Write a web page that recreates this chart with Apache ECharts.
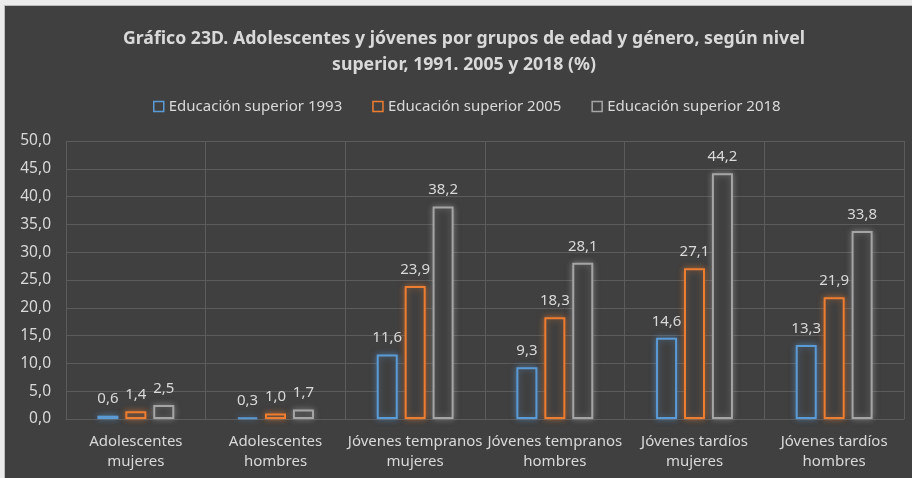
<!DOCTYPE html>
<html>
<head>
<meta charset="utf-8">
<script src="https://cdn.jsdelivr.net/npm/echarts@6/dist/echarts.min.js"></script>
<style>
html,body{margin:0;padding:0;background:#ececec;width:912px;height:478px;overflow:hidden;}
#frame{position:absolute;left:4px;top:5px;width:908px;height:473px;background:#bdbdbd;}
#chart{position:absolute;left:5px;top:6px;width:907px;height:472px;background:#404040;}
</style>
</head>
<body>
<div id="frame"></div>
<div id="chart"></div>
<script>
const categories = [
  "Adolescentes\nmujeres",
  "Adolescentes\nhombres",
  "Jóvenes tempranos\nmujeres",
  "Jóvenes tempranos\nhombres",
  "Jóvenes tardíos\nmujeres",
  "Jóvenes tardíos\nhombres"
];
const seriesNames = ["Educación superior 1993", "Educación superior 2005", "Educación superior 2018"];
const values1993 = [0.6, 0.3, 11.6, 9.3, 14.6, 13.3];
const values2005 = [1.4, 1.0, 23.9, 18.3, 27.1, 21.9];
const values2018 = [2.5, 1.7, 38.2, 28.1, 44.2, 33.8];
const yTicks = {min: 0, max: 50, interval: 5};
const titleText = "Gráfico 23D. Adolescentes y jóvenes por grupos de edad y género, según nivel\nsuperior, 1991. 2005 y 2018 (%)";

const colors = ["#5B9BD5", "#ED7D31", "#A5A5A5"];
const shadows = ["rgba(91,155,213,0.55)", "rgba(237,125,49,0.55)", "rgba(165,165,165,0.55)"];
const FONT = "Noto Sans";
const fmt = v => v.toFixed(1).replace('.', ',');

const allValues = [values1993, values2005, values2018];
const series = allValues.map((vals, i) => ({
  name: seriesNames[i],
  type: 'bar',
  data: vals,
  barWidth: 21,
  barGap: '33%',
  itemStyle: {
    color: '#404040',
    borderColor: colors[i],
    borderWidth: 2,
    shadowColor: shadows[i],
    shadowBlur: 6
  },
  label: {
    show: true,
    position: 'top',
    distance: 9,
    color: '#d9d9d9',
    fontFamily: FONT,
    fontSize: 15,
    formatter: p => fmt(p.value)
  }
}));

const chart = echarts.init(document.getElementById('chart'), null, {renderer: 'canvas'});
chart.setOption({
  animation: false,
  backgroundColor: '#404040',
  title: {
    text: titleText,
    left: 454,
    top: 15,
    textAlign: 'center',
    textStyle: {
      color: '#d9d9d9',
      fontFamily: FONT,
      fontWeight: 'bold',
      fontSize: 17.7,
      lineHeight: 26
    }
  },
  legend: {
    data: seriesNames.map((n, i) => ({
      name: n,
      icon: 'rect',
      itemStyle: {color: 'rgba(0,0,0,0)', borderColor: colors[i], borderWidth: 1.5}
    })),
    left: 143,
    top: 88,
    itemWidth: 10,
    itemHeight: 10,
    itemGap: 30,
    textStyle: {color: '#d9d9d9', fontFamily: FONT, fontSize: 15}
  },
  grid: {left: 61, right: 8, top: 135, bottom: 59, containLabel: false},
  xAxis: {
    type: 'category',
    data: categories,
    axisTick: {show: false},
    axisLine: {show: true, lineStyle: {color: '#5c5c5c', width: 1}},
    splitLine: {show: true, lineStyle: {color: '#5c5c5c', width: 1}},
    axisLabel: {
      interval: 0,
      color: '#d9d9d9',
      fontFamily: FONT,
      fontSize: 15,
      lineHeight: 20,
      margin: 13
    }
  },
  yAxis: {
    type: 'value',
    min: yTicks.min,
    max: yTicks.max,
    interval: yTicks.interval,
    axisLine: {show: false},
    axisTick: {show: false},
    splitLine: {show: true, lineStyle: {color: '#5c5c5c', width: 1}},
    axisLabel: {
      color: '#d9d9d9',
      fontFamily: FONT,
      fontSize: 15.5,
      margin: 15,
      formatter: v => fmt(v)
    }
  },
  series: series
});
</script>
</body>
</html>
